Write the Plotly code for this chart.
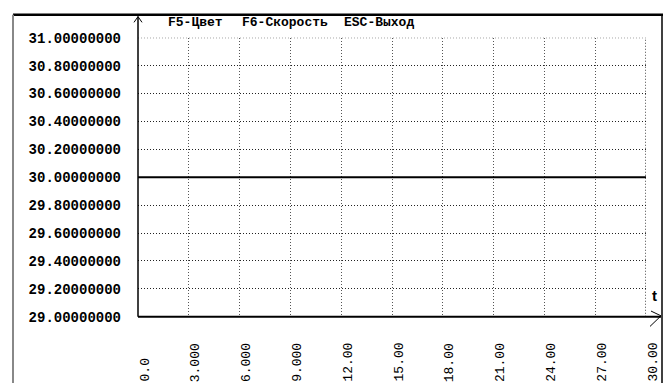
import plotly.graph_objects as go

# Series: constant level over time
t_values = [0.0, 30.0]
level_values = [30.0, 30.0]

# Axis ticks
x_ticks = [0, 3, 6, 9, 12, 15, 18, 21, 24, 27, 30]
x_tick_labels = ["0.0", "3.000", "6.000", "9.000", "12.00", "15.00",
                 "18.00", "21.00", "24.00", "27.00", "30.00"]
y_ticks = [29.0, 29.2, 29.4, 29.6, 29.8, 30.0, 30.2, 30.4, 30.6, 30.8, 31.0]
y_tick_labels = ["29.00000000", "29.20000000", "29.40000000", "29.60000000",
                 "29.80000000", "30.00000000", "30.20000000", "30.40000000",
                 "30.60000000", "30.80000000", "31.00000000"]

menu_items = ["F5-Цвет", "F6-Скорость", "ESC-Выход"]
menu_x = [166, 240, 342]

W, H = 669, 392


def px(x):
    return x / W


def py(y):
    return 1 - y / H


X0, X1 = 138, 646   # plot area left/right (pixels)
Y0, Y1 = 32, 323    # plot area top/bottom (pixels)
DOTS = "1px,2px"

fig = go.Figure()
fig.add_trace(go.Scatter(
    x=t_values, y=level_values, mode="lines",
    line=dict(color="black", width=2), showlegend=False, hoverinfo="skip",
))

mono = "Liberation Mono, DejaVu Sans Mono, monospace"

fig.update_layout(
    width=W, height=H,
    margin=dict(l=0, r=0, t=0, b=0),
    paper_bgcolor="white", plot_bgcolor="white",
    xaxis=dict(
        domain=[px(X0), px(X1)], range=[0, 30], tickvals=x_ticks,
        showticklabels=False, showline=False, zeroline=False, ticks="",
        showgrid=True, gridcolor="#555555", griddash=DOTS, gridwidth=1,
        fixedrange=True,
    ),
    yaxis=dict(
        domain=[py(Y1), py(Y0)], range=[29, 31], tickvals=y_ticks,
        ticktext=y_tick_labels, ticks="", ticklabelstandoff=16,
        tickfont=dict(family=mono, size=14, color="black", weight="bold"),
        showline=False, zeroline=False,
        showgrid=True, gridcolor="#222222", griddash=DOTS, gridwidth=1,
        fixedrange=True,
    ),
)

shapes = []
# edge grid lines (top level and final time)
shapes.append(dict(type="line", xref="x", yref="y",
                   x0=0, x1=30, y0=y_ticks[-1], y1=y_ticks[-1],
                   line=dict(color="#222222", width=1, dash=DOTS)))
shapes.append(dict(type="line", xref="x", yref="y",
                   x0=x_ticks[-1], x1=x_ticks[-1], y0=29, y1=31,
                   line=dict(color="#111111", width=1.5, dash=DOTS)))
# outer frame
shapes.append(dict(type="line", xref="paper", yref="paper",
                   x0=px(13), x1=px(663), y0=py(8), y1=py(8),
                   line=dict(color="black", width=2.5)))
shapes.append(dict(type="line", xref="paper", yref="paper",
                   x0=px(13), x1=px(13), y0=py(8), y1=0,
                   line=dict(color="#888888", width=2)))
shapes.append(dict(type="line", xref="paper", yref="paper",
                   x0=px(662), x1=px(662), y0=py(8), y1=0,
                   line=dict(color="black", width=1.5)))
# y axis with arrow
shapes.append(dict(type="line", xref="paper", yref="paper",
                   x0=px(X0), x1=px(X0), y0=py(Y1), y1=py(10),
                   line=dict(color="black", width=1.5)))
shapes.append(dict(type="path", xref="paper", yref="paper",
                   path=f"M {px(X0-4)} {py(16)} L {px(X0)} {py(10)} L {px(X0+4)} {py(16)}",
                   line=dict(color="black", width=1)))
# x axis with arrow
shapes.append(dict(type="line", xref="paper", yref="paper",
                   x0=px(X0), x1=px(661), y0=py(Y1), y1=py(Y1),
                   line=dict(color="black", width=2)))
shapes.append(dict(type="path", xref="paper", yref="paper",
                   path=f"M {px(651)} {py(317)} L {px(661)} {py(322)} L {px(650)} {py(333)}",
                   line=dict(color="black", width=1)))
fig.update_layout(shapes=shapes)

annotations = []
for xv, lab in zip(x_ticks, x_tick_labels):
    annotations.append(dict(
        x=xv, xref="x", y=py(393), yref="paper", text=lab, showarrow=False,
        textangle=-90, xanchor="center", yanchor="bottom", xshift=7,
        font=dict(family=mono, size=13, color="black"),
    ))
for mx, item in zip(menu_x, menu_items):
    annotations.append(dict(
        x=px(mx), xref="paper", y=py(16), yref="paper", text=item,
        showarrow=False, xanchor="left", yanchor="middle",
        font=dict(family=mono, size=13, color="black", weight="bold"),
    ))
annotations.append(dict(
    x=px(654), xref="paper", y=py(301), yref="paper", text="t",
    showarrow=False, xanchor="center", yanchor="middle",
    font=dict(family="Liberation Sans, Arial", size=15, color="black", weight="bold"),
))
fig.update_layout(annotations=annotations)

fig.write_html("out.html")
